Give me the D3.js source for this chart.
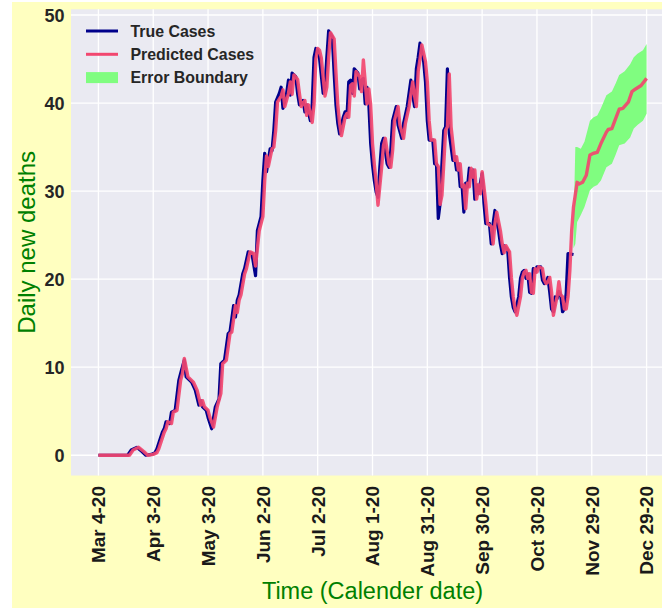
<!DOCTYPE html>
<html>
<head>
<meta charset="utf-8">
<script src="https://cdn.jsdelivr.net/npm/d3@7"></script>
<style>
  body { margin: 0; background: #fff; }
  svg { display: block; font-family: "Liberation Sans", Arial, sans-serif; }
</style>
</head>
<body>
<svg id="chart" width="662" height="608"></svg>
<script>
// Daily new deaths: observed vs fitted/forecast, with forecast error band.
// Days are counted from the first date (Mar 4, 2020); values read off the plot.
const START = new Date(2020, 2, 4);

const trueDays = [0, 16, 18, 21, 24, 26, 29, 31, 32, 35, 36, 37, 39, 40, 42, 44, 45, 47, 48, 51,
  53, 55, 56, 57, 59, 60, 62, 64, 66, 67, 69, 71, 72, 74, 75, 76, 77, 79, 80, 82,
  84, 86, 87, 89, 90, 91, 92, 94, 95, 96, 97, 99, 100, 101, 103, 104, 105, 106, 108, 109,
  110, 112, 113, 114, 116, 117, 118, 119, 120, 121, 123, 124, 125, 126, 128, 129, 130, 131, 132, 134,
  135, 136, 137, 138, 139, 140, 142, 143, 144, 145, 146, 147, 148, 149, 150, 151, 152, 153, 154, 155,
  156, 158, 159, 160, 161, 163, 164, 166, 167, 169, 171, 172, 173, 174, 175, 176, 178, 179, 180, 181,
  183, 184, 185, 186, 187, 188, 189, 190, 191, 192, 194, 195, 196, 197, 198, 199, 200, 201, 202, 203,
  204, 205, 206, 207, 208, 209, 210, 211, 212, 214, 215, 216, 217, 219, 220, 221, 222, 224, 225, 226,
  227, 228, 230, 231, 232, 233, 234, 235, 236, 237, 238, 239, 240, 242, 243, 244, 245, 246, 247, 248,
  249, 250, 251, 252, 253, 254, 255, 256, 257, 260];
const trueVals = [0, 0, 0.6, 0.9, 0.4, 0, 0.1, 0.3, 0.7, 2.6, 3.0, 3.8, 3.6, 4.9, 5.1, 8.5, 9.3, 10.8, 8.9, 8.3,
  7.4, 5.7, 6.2, 5.5, 5.1, 4.3, 3.0, 5.5, 6.4, 10.4, 10.8, 13.8, 14.0, 17.0, 15.7, 17.6, 18.2, 20.6, 21.2, 23.1,
  22.9, 20.4, 25.5, 27.1, 31.2, 34.3, 32.2, 34.8, 34.6, 36.9, 40.1, 41.1, 41.8, 39.4, 41.1, 42.6, 40.9, 43.4, 43.0, 41.1,
  39.8, 40.3, 39.0, 39.8, 38.0, 39.9, 45.2, 46.2, 46.0, 45.1, 41.1, 41.8, 45.2, 48.2, 47.5, 43.4, 39.8, 37.7, 36.5, 38.4,
  39.0, 38.4, 42.4, 42.6, 41.1, 43.9, 43.4, 41.6, 42.6, 42.8, 39.9, 41.8, 39.8, 35.4, 33.0, 31.2, 29.9, 29.3, 32.7, 35.4,
  36.0, 33.1, 32.7, 34.6, 38.0, 39.6, 37.5, 36.0, 37.7, 39.6, 42.6, 40.9, 39.6, 43.9, 45.2, 46.8, 44.7, 42.4, 38.0, 35.8,
  35.8, 33.1, 33.1, 26.9, 28.6, 33.1, 36.9, 37.3, 43.9, 36.6, 33.5, 33.9, 32.4, 33.1, 30.5, 30.7, 27.6, 30.9, 30.5, 32.6,
  31.6, 32.4, 29.1, 30.7, 29.7, 30.9, 32.0, 28.6, 26.3, 26.3, 24.0, 26.3, 27.8, 25.5, 24.0, 22.9, 23.8, 23.3, 20.2, 18.0,
  16.8, 16.3, 18.0, 20.1, 20.8, 21.0, 20.1, 20.6, 18.5, 18.4, 21.2, 20.8, 21.4, 21.4, 19.9, 19.5, 19.7, 20.2, 18.5, 16.6,
  16.3, 18.0, 17.8, 18.6, 18.2, 16.3, 16.6, 18.4, 22.9, 22.8];

const predDays = [0, 17, 19, 22, 25, 27, 30, 32, 33, 36, 37, 38, 40, 41, 43, 45, 46, 47, 49, 52,
  54, 56, 57, 58, 60, 61, 63, 65, 67, 68, 70, 72, 73, 75, 76, 77, 78, 80, 81, 83,
  85, 86, 88, 90, 91, 92, 93, 95, 96, 97, 98, 100, 101, 102, 104, 105, 106, 107, 109, 110,
  111, 113, 114, 115, 117, 118, 119, 120, 121, 122, 124, 125, 126, 127, 129, 130, 131, 132, 133, 135,
  136, 137, 138, 139, 140, 141, 143, 144, 145, 147, 148, 149, 150, 151, 152, 153, 155, 156, 157, 159,
  160, 161, 162, 164, 165, 167, 168, 170, 172, 173, 174, 175, 176, 177, 179, 180, 181, 182, 184, 185,
  186, 187, 188, 189, 190, 191, 192, 193, 195, 196, 197, 198, 199, 200, 201, 202, 203, 204, 205, 206,
  207, 208, 209, 210, 211, 212, 213, 215, 216, 217, 218, 220, 221, 222, 223, 225, 226, 227, 228, 229,
  231, 232, 233, 234, 235, 236, 237, 238, 239, 240, 241, 243, 244, 245, 246, 247, 248, 249, 250, 251,
  252, 253, 254, 255, 256, 257, 258, 259, 260, 262, 263, 265, 267, 269, 271, 273, 275, 278, 279, 281,
  283, 285, 287, 290, 292, 294, 297, 300];
const predVals = [0, 0, 0.6, 0.9, 0.4, 0, 0.1, 0.3, 0.7, 2.6, 3.0, 3.8, 3.6, 4.9, 5.1, 8.5, 9.3, 11.0, 8.9, 8.3,
  7.4, 5.7, 6.2, 5.5, 5.1, 4.3, 3.2, 5.5, 7.0, 10.4, 10.8, 13.8, 14.0, 17.0, 16.2, 17.6, 18.2, 20.6, 21.2, 23.1,
  22.9, 21.5, 25.5, 27.1, 31.2, 34.0, 32.8, 34.8, 35.0, 36.9, 40.1, 40.8, 41.5, 39.6, 41.1, 42.4, 41.0, 43.2, 42.7, 41.1,
  39.6, 40.3, 38.6, 39.8, 37.8, 39.9, 45.0, 46.2, 46.0, 45.1, 40.8, 41.8, 45.2, 48.0, 47.3, 43.4, 39.8, 37.7, 36.3, 38.4,
  38.8, 38.4, 42.0, 42.2, 40.8, 43.6, 43.0, 41.3, 44.9, 39.9, 41.6, 39.8, 35.4, 33.0, 31.0, 28.4, 32.7, 35.2, 36.0, 33.1,
  32.7, 34.6, 38.0, 39.6, 37.5, 36.0, 37.7, 39.6, 42.4, 40.9, 39.6, 43.6, 45.0, 46.6, 44.7, 42.4, 38.0, 35.8, 35.8, 33.1,
  32.8, 28.5, 29.5, 33.1, 36.9, 37.3, 43.3, 37.3, 33.5, 33.9, 32.4, 33.1, 30.5, 30.7, 28.0, 30.9, 30.5, 32.6, 31.6, 32.4,
  29.1, 30.7, 29.7, 32.2, 30.5, 28.6, 26.3, 26.0, 24.0, 26.3, 27.6, 25.5, 24.0, 23.0, 23.8, 23.1, 20.2, 18.0, 16.6, 15.9,
  18.0, 20.1, 20.8, 21.0, 20.1, 20.6, 18.5, 18.4, 21.2, 20.8, 21.4, 21.2, 19.9, 19.5, 19.7, 20.2, 18.5, 15.9, 17.0, 18.0,
  19.7, 18.2, 18.0, 16.6, 16.6, 18.0, 21.0, 25.5, 28.2, 31.0, 30.8, 31.0, 31.8, 34.1, 34.3, 34.4, 35.4, 36.7, 37.0, 37.1,
  38.2, 39.3, 39.4, 40.1, 41.3, 41.6, 42.0, 42.8];

const bandDays = [260, 261, 262, 264, 266, 269, 271, 273, 275, 278, 281, 283, 285, 288, 291, 293, 295, 298, 300];
const bandLow  = [23.5, 24.0, 26.5, 27.3, 28.2, 30.1, 30.5, 30.7, 31.2, 32.7, 33.1, 34.1, 35.2, 35.4, 36.1, 37.1, 37.5, 38.0, 38.8];
const bandHigh = [26.0, 35.0, 35.0, 34.8, 35.6, 38.0, 38.4, 38.6, 39.4, 40.9, 41.3, 42.2, 43.2, 43.6, 44.4, 45.2, 45.6, 46.0, 46.7];

const yTicks = [0, 10, 20, 30, 40, 50];
const xTickDays = [0, 30, 60, 90, 120, 150, 180, 210, 240, 270, 300];
const legendLabels = ['True Cases', 'Predicted Cases', 'Error Boundary'];

const COLORS = { trueLine: '#00008b', pred: '#f2476f', band: '#80fd80' };

const svg = d3.select('#chart');
const plotL = 71, plotR = 674, plotT = 9.3, plotB = 475.5;

// figure background (light yellow, small white margin left/top)
svg.append('rect').attr('x', 12).attr('y', 2).attr('width', 650).attr('height', 606).attr('fill', '#ffffc0');

const dayDate = d => d3.timeDay.offset(START, d);
const x = d3.scaleTime()
  .domain([dayDate(-15), dayDate(315)])
  .range([plotL, plotR]);
const y = d3.scaleLinear().domain([-2.3, 50.65]).range([plotB, plotT]);

svg.append('clipPath').attr('id', 'plotclip')
  .append('rect').attr('x', plotL).attr('y', plotT).attr('width', plotR - plotL).attr('height', plotB - plotT);

svg.append('rect')
  .attr('x', plotL).attr('y', plotT).attr('width', plotR - plotL).attr('height', plotB - plotT)
  .attr('fill', '#eaeaf2');

// grid
const grid = svg.append('g').attr('stroke', '#fff').attr('stroke-width', 1.3);
grid.selectAll('line.h').data(yTicks).join('line').attr('class', 'h')
  .attr('x1', plotL).attr('x2', plotR)
  .attr('y1', d => y(d)).attr('y2', d => y(d));
grid.selectAll('line.v').data(xTickDays).join('line').attr('class', 'v')
  .attr('x1', d => x(dayDate(d))).attr('x2', d => x(dayDate(d)))
  .attr('y1', plotT).attr('y2', plotB);

// y axis labels
svg.append('g').selectAll('text').data(yTicks).join('text')
  .attr('x', 64.5).attr('y', d => y(d)).attr('dy', '0.36em')
  .attr('text-anchor', 'end')
  .attr('font-size', 18).attr('font-weight', 'bold').attr('fill', '#262626')
  .text(d => d);

// x axis labels (rotated)
const fmt = d3.timeFormat('%b %-d-%y');
svg.append('g').selectAll('text').data(xTickDays).join('text')
  .attr('transform', d => `translate(${x(dayDate(d))},486) rotate(-90)`)
  .attr('dy', '0.36em')
  .attr('text-anchor', 'end')
  .attr('font-size', 19).attr('font-weight', 'bold').attr('fill', '#1a1a1a')
  .text(d => fmt(dayDate(d)));

// series
const plot = svg.append('g').attr('clip-path', 'url(#plotclip)');

const band = bandDays.map((d, i) => ({ d, lo: bandLow[i], hi: bandHigh[i] }));
plot.append('path')
  .datum(band)
  .attr('fill', COLORS.band)
  .attr('d', d3.area().x(p => x(dayDate(p.d))).y0(p => y(p.lo)).y1(p => y(p.hi)));

const line = d3.line().x(p => x(dayDate(p[0]))).y(p => y(p[1]));
plot.append('path')
  .datum(trueDays.map((d, i) => [d, trueVals[i]]))
  .attr('fill', 'none').attr('stroke', COLORS.trueLine).attr('stroke-width', 3.2)
  .attr('stroke-linejoin', 'round')
  .attr('d', line);
plot.append('path')
  .datum(predDays.map((d, i) => [d, predVals[i]]))
  .attr('fill', 'none').attr('stroke', COLORS.pred).attr('stroke-width', 3.4)
  .attr('stroke-opacity', 0.92).attr('stroke-linejoin', 'round')
  .attr('d', line);

// legend (no frame)
const leg = svg.append('g');
const legY = [31, 54.3, 77.6];
legendLabels.forEach((label, i) => {
  if (i < 2) {
    leg.append('line')
      .attr('x1', 86).attr('x2', 118).attr('y1', legY[i]).attr('y2', legY[i])
      .attr('stroke', i === 0 ? COLORS.trueLine : COLORS.pred).attr('stroke-width', 3);
  } else {
    leg.append('rect').attr('x', 86).attr('y', legY[i] - 5.5).attr('width', 32).attr('height', 11)
      .attr('fill', COLORS.band);
  }
  leg.append('text')
    .attr('x', 130.5).attr('y', legY[i]).attr('dy', '0.36em')
    .attr('font-size', 15.9).attr('font-weight', 'bold').attr('fill', '#262626')
    .text(label);
});

// axis titles
svg.append('text')
  .attr('x', (plotL + plotR) / 2).attr('y', 599)
  .attr('text-anchor', 'middle')
  .attr('font-size', 23.5).attr('fill', 'green')
  .text('Time (Calender date)');
svg.append('text')
  .attr('transform', `translate(35,${(plotT + plotB) / 2}) rotate(-90)`)
  .attr('text-anchor', 'middle')
  .attr('font-size', 24).attr('fill', 'green')
  .text('Daily new deaths');
</script>
</body>
</html>
